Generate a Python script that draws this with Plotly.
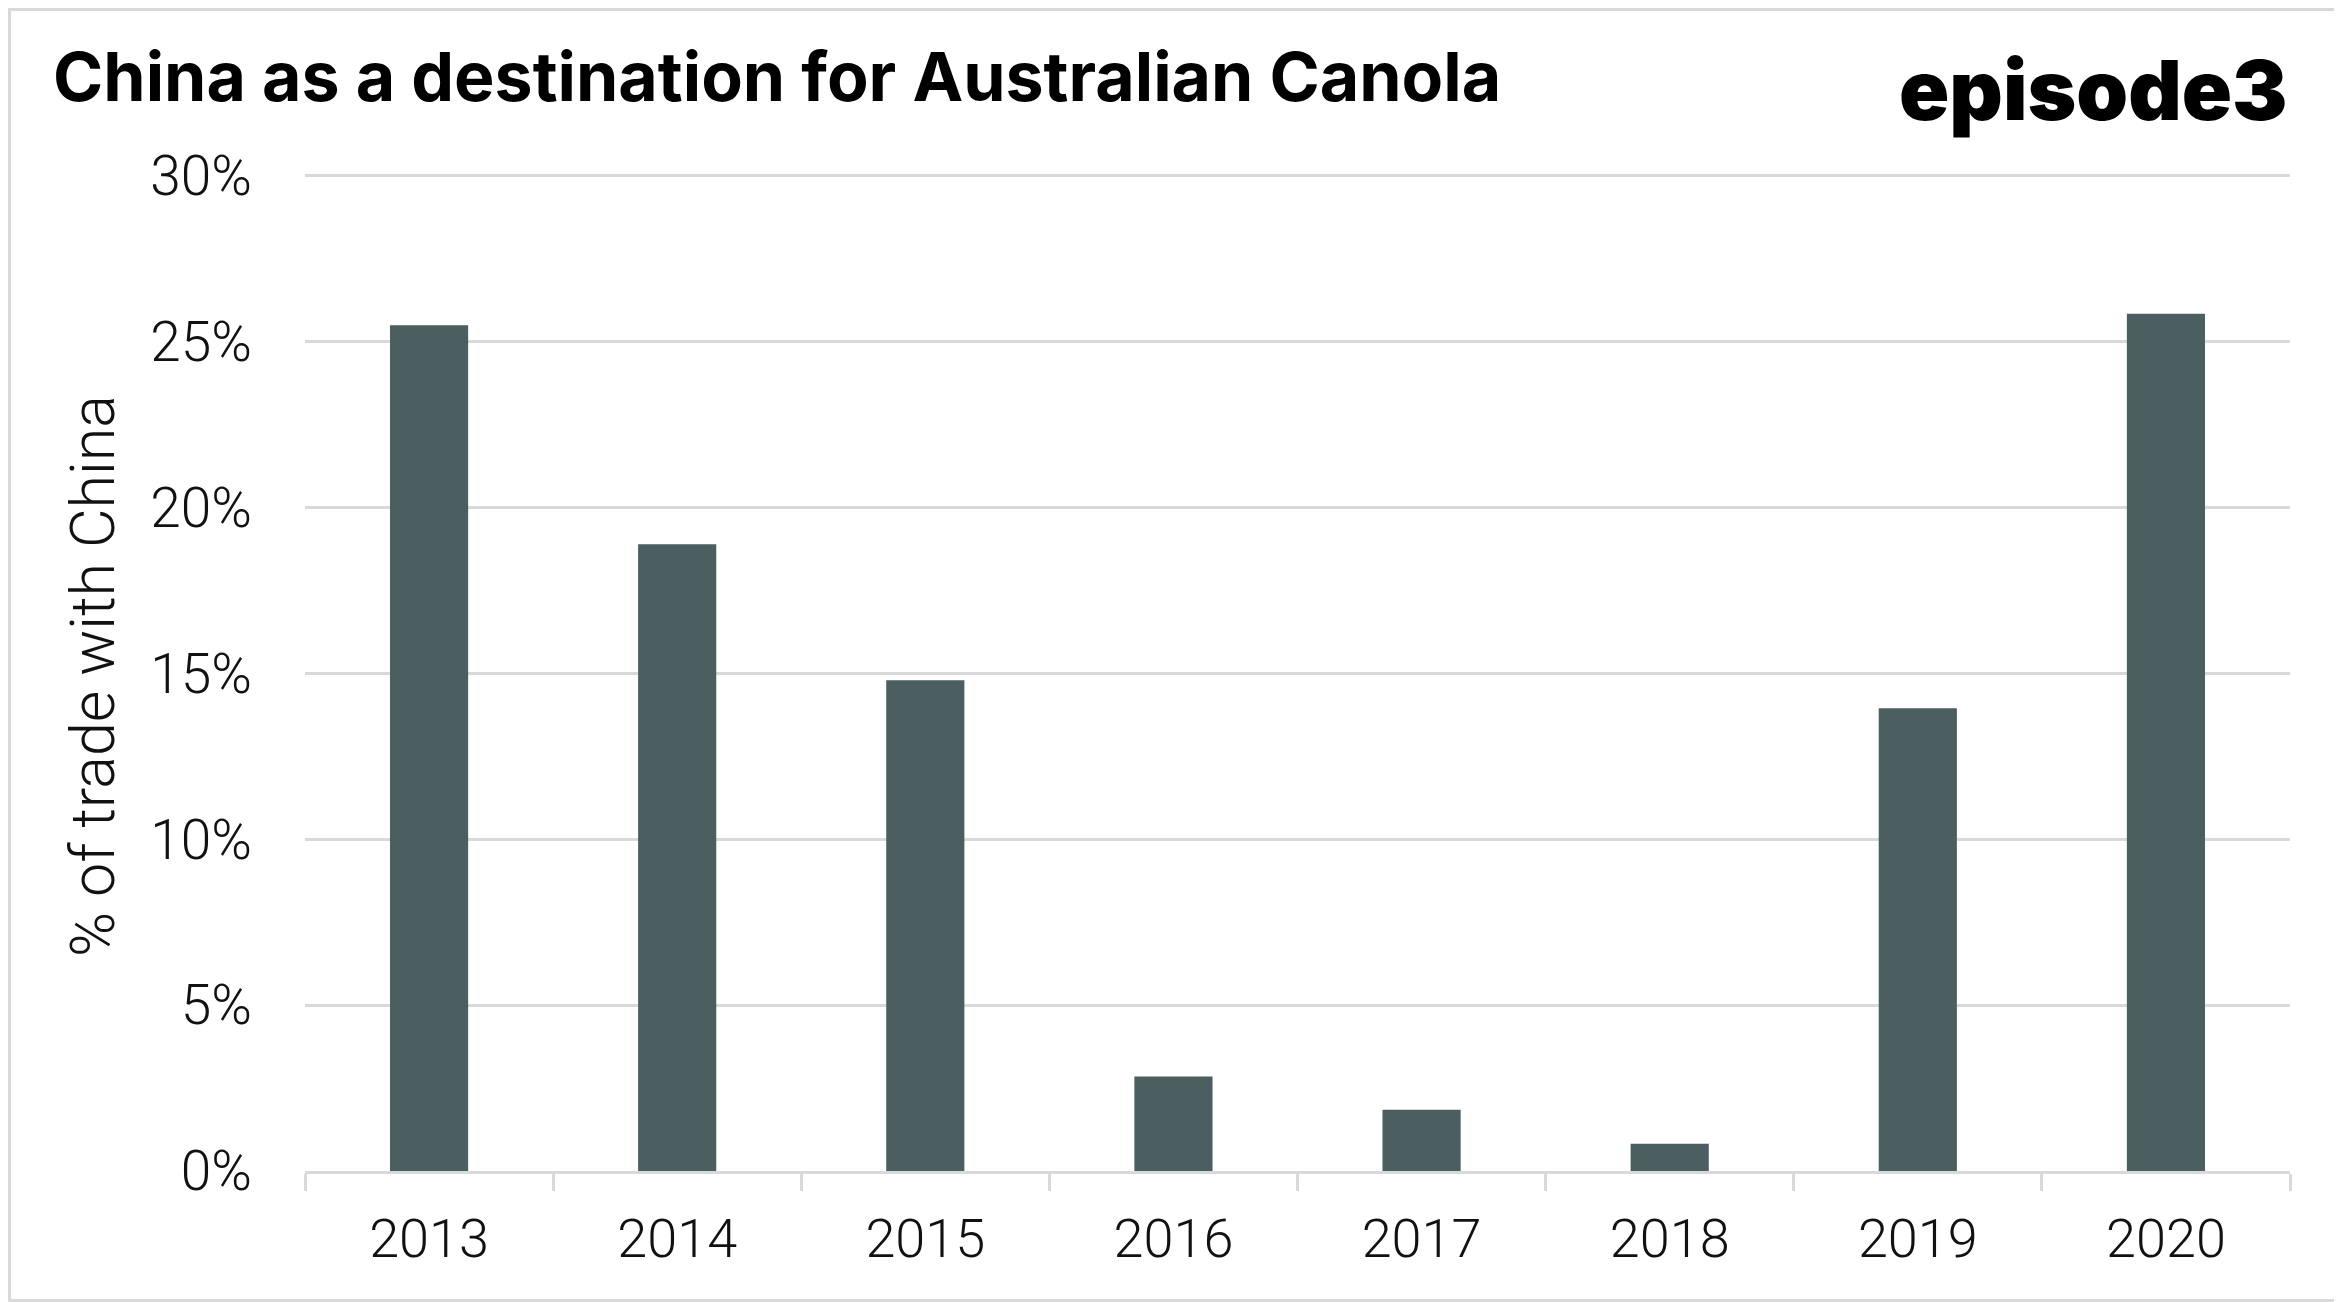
import plotly.graph_objects as go

years = ["2013", "2014", "2015", "2016", "2017", "2018", "2019", "2020"]
share_pct = [25.5, 18.9, 14.8, 2.85, 1.85, 0.82, 13.95, 25.85]
ytick_vals = [0, 5, 10, 15, 20, 25, 30]
ytick_text = ["0%", "5%", "10%", "15%", "20%", "25%", "30%"]

OFF = 8  # default body margin of the page
W, H = 2342 - OFF, 1302 - OFF
L, T = 305 - OFF, 174 - OFF
R, B = W - (2290 - OFF), H - (1171 - OFF)
pw, ph = W - L - R, H - T - B

def px(x):
    return (x - OFF - L) / pw

def py(y):
    return (H - B - (y - OFF)) / ph

grey = "#d9d9d9"
tick_font = dict(family="Roboto", size=55, color="#111111", weight=300)

fig = go.Figure(go.Bar(x=years, y=share_pct, marker=dict(color="#4b5e60", line=dict(width=0)),
                       width=0.315, hoverinfo="skip"))

fig.update_layout(
    width=W, height=H, margin=dict(l=L, r=R, t=T, b=B, pad=0),
    paper_bgcolor="white", plot_bgcolor="white", showlegend=False,
    xaxis=dict(type="category", tickson="boundaries", ticks="outside", ticklen=17,
               tickwidth=3, tickcolor=grey, showline=True, linecolor=grey, linewidth=3,
               showgrid=False, tickfont=dict(family="Roboto", size=54, color="#111111", weight=300),
               ticklabelstandoff=18),
    yaxis=dict(range=[0, 30.06], tickvals=ytick_vals, ticktext=ytick_text, showgrid=True,
               gridcolor=grey, gridwidth=3, zeroline=False, showline=False, ticks="",
               tickfont=tick_font, ticklabelstandoff=52),
    annotations=[
        dict(text="<b>China as a destination for Australian Canola</b>", x=px(51), y=py(76),
             xref="paper", yref="paper", xanchor="left", yanchor="middle", showarrow=False,
             font=dict(family="Inter", size=68, color="#000000")),
        dict(text="episode3", x=px(2290), y=py(90),
             xref="paper", yref="paper", xanchor="right", yanchor="middle", showarrow=False,
             font=dict(family="Inter", size=83, color="#000000", weight=900)),
        dict(text="% of trade with China", x=px(93), y=py(676), textangle=-90,
             xref="paper", yref="paper", xanchor="center", yanchor="middle", showarrow=False,
             font=dict(family="Roboto", size=61, color="#111111", weight=300)),
    ],
    shapes=[
        dict(type="rect", xref="paper", yref="paper", x0=px(OFF + 1.5), x1=px(2342 - 1.5),
             y0=py(1302 - 1.5), y1=py(OFF + 1.5), line=dict(color=grey, width=3), layer="above"),
    ],
)

fig.write_html("out.html")
